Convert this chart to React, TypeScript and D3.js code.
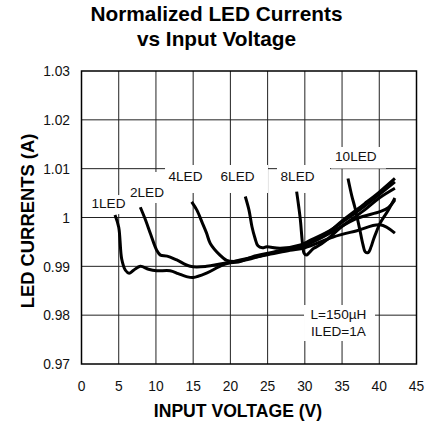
import React from "react";
import * as d3 from "d3";

const W = 439;
const H = 423;

const xTicks = [0, 5, 10, 15, 20, 25, 30, 35, 40, 45];
const yTicks = [0.97, 0.98, 0.99, 1, 1.01, 1.02, 1.03];
const yTickLabels = ["0.97", "0.98", "0.99", "1", "1.01", "1.02", "1.03"];

const led1V = [4.5, 5.0, 5.4, 5.9, 6.4, 7.0, 7.9, 9.0, 10.1, 11.9, 13.0, 14.1, 15.0, 16.8, 19.0, 21.3, 23, 25.4, 28, 30, 33.8, 37, 40.1, 42.1];
const led1I = [1.0005, 0.998, 0.9915, 0.9892, 0.9886, 0.9892, 0.99, 0.9894, 0.9891, 0.9891, 0.9885, 0.9879, 0.9877, 0.9886, 0.9903, 0.9913, 0.9918, 0.9925, 0.9933, 0.9938, 0.996, 0.9973, 0.9985, 0.9968];

const led2V = [7.9, 8.6, 9.3, 10.1, 10.6, 11.5, 12.8, 14.6, 16.8, 19.0, 21.3, 23, 25.4, 28, 30, 33, 37, 40.1, 41.2, 42.1];
const led2I = [1.0021, 0.9995, 0.9965, 0.9933, 0.9923, 0.9921, 0.9913, 0.99, 0.99, 0.9906, 0.991, 0.992, 0.9928, 0.9937, 0.9943, 0.9965, 0.9998, 1.0012, 1.002, 1.0036];

const led4V = [14.8, 15.5, 16.2, 16.8, 17.3, 18.6, 19.5, 20.5, 22, 25, 28, 30, 33, 35, 38, 40, 42.1];
const led4I = [1.0032, 1.0015, 0.999, 0.9968, 0.9947, 0.9923, 0.9912, 0.991, 0.9913, 0.9925, 0.9937, 0.9945, 0.9968, 0.9993, 1.0028, 1.0052, 1.008];

const led6V = [22.0, 22.5, 22.9, 23.3, 23.7, 24.3, 24.9, 26.7, 29.4, 30.7, 33, 35, 38, 40, 42.1];
const led6I = [1.0043, 1.0015, 0.9981, 0.9958, 0.9942, 0.9938, 0.994, 0.9937, 0.9944, 0.9953, 0.997, 0.999, 1.0023, 1.0047, 1.0073];

const led8V = [28.9, 29.2, 29.4, 29.7, 29.9, 30.2, 30.6, 31.2, 31.6, 33, 35, 38, 40, 42.1];
const led8I = [1.0053, 1.002, 0.9995, 0.9945, 0.9927, 0.9923, 0.9928, 0.9937, 0.994, 0.9955, 0.9982, 1.0015, 1.004, 1.006];

const led10V = [35.8, 36.3, 36.7, 37.1, 37.4, 37.8, 38.1, 38.5, 38.9, 39.2, 39.6, 40.1, 41.2, 42.1];
const led10I = [1.008, 1.0045, 1.0022, 0.9995, 0.9974, 0.9945, 0.993, 0.9928, 0.994, 0.9954, 0.997, 0.9988, 1.0015, 1.004];

const seriesV = [led1V, led2V, led4V, led6V, led8V, led10V];
const seriesI = [led1I, led2I, led4I, led6I, led8I, led10I];

// labels: text, centre voltage, baseline current, box [v0, v1, iTop, iBottom]
const labelText = ["1LED", "2LED", "4LED", "6LED", "8LED", "10LED"];
const labelV = [3.63, 8.8, 13.97, 20.96, 29.02, 36.85];
const labelI = [1.00195, 1.0042, 1.00747, 1.00747, 1.00747, 1.01163];
const boxV0 = [0.87, 6.11, 11.22, 18.07, 26.26, 33.52];
const boxV1 = [6.52, 11.35, 18.34, 25.05, 33.38, 40.9];
const boxITop = [1.0046, 1.00932, 1.01075, 1.01075, 1.01075, 1.01444];
const boxIBot = [1.0007, 1.00297, 1.00502, 1.00502, 1.00502, 1.01003];

const noteLines = ["L=150µH", "ILED=1A"];
const noteV = 34.52;
const noteI = [0.97921, 0.97573];
const noteBox = [29.89, 39.43, 0.98208, 0.97471];

const FONT = "'Liberation Sans', Arial, Helvetica, sans-serif";

export default function App() {
  const left = 81.5, right = 416.5, top = 71, bottom = 364;
  const x = d3.scaleLinear().domain([0, 45]).range([left, right]);
  const y = d3.scaleLinear().domain([0.97, 1.03]).range([bottom, top]);

  const line = d3
    .line<[number, number]>()
    .x((d) => x(d[0]))
    .y((d) => y(d[1]))
    .curve(d3.curveCatmullRom.alpha(0.5));

  return (
    <svg
      width={W}
      height={H}
      style={{ position: "fixed", left: 0, top: 0, background: "#fff" }}
      fontFamily={FONT}
    >
      <rect x={0} y={0} width={W} height={H} fill="#fff" />
      <text x={216.5} y={21} textAnchor="middle" fontWeight="bold" fontSize={20.8}>
        Normalized LED Currents
      </text>
      <text x={216.5} y={45.5} textAnchor="middle" fontWeight="bold" fontSize={20.8}>
        vs Input Voltage
      </text>

      {/* grid */}
      {xTicks.slice(1, -1).map((t) => (
        <line key={"gx" + t} x1={x(t)} x2={x(t)} y1={top} y2={bottom} stroke="#222" strokeWidth={1} />
      ))}
      {yTicks.slice(1, -1).map((t) => (
        <line key={"gy" + t} x1={left} x2={right} y1={y(t)} y2={y(t)} stroke="#222" strokeWidth={1} />
      ))}
      <rect x={left} y={top} width={right - left} height={bottom - top} fill="none" stroke="#000" strokeWidth={1.5} />

      {/* tick labels */}
      {xTicks.map((t) => (
        <text key={"tx" + t} x={x(t)} y={390.5} textAnchor="middle" fontSize={13.8} fill="#111">
          {t}
        </text>
      ))}
      {yTicks.map((t, k) => (
        <text key={"ty" + t} x={70} y={y(t)} dy="0.38em" textAnchor="end" fontSize={13.8} fill="#111">
          {yTickLabels[k]}
        </text>
      ))}

      <text x={238} y={416.5} textAnchor="middle" fontWeight="bold" fontSize={17.6}>
        INPUT VOLTAGE (V)
      </text>
      <text
        transform={`translate(33.5, 221) rotate(-90)`}
        textAnchor="middle"
        fontWeight="bold"
        fontSize={18.4}
      >
        LED CURRENTS (A)
      </text>

      {/* label boxes */}
      {labelText.map((t, k) => (
        <g key={"lb" + t}>
          <rect
            x={x(boxV0[k])}
            y={y(boxITop[k])}
            width={x(boxV1[k]) - x(boxV0[k])}
            height={y(boxIBot[k]) - y(boxITop[k])}
            fill="#fff"
          />
          <text x={x(labelV[k])} y={y(labelI[k])} textAnchor="middle" fontSize={13.6} fill="#111">
            {t}
          </text>
        </g>
      ))}
      <rect
        x={x(noteBox[0])}
        y={y(noteBox[2])}
        width={x(noteBox[1]) - x(noteBox[0])}
        height={y(noteBox[3]) - y(noteBox[2])}
        fill="#fff"
      />
      {noteLines.map((t, k) => (
        <text key={"n" + k} x={x(noteV)} y={y(noteI[k])} textAnchor="middle" fontSize={13.6} fill="#111">
          {t}
        </text>
      ))}

      {/* curves */}
      {seriesV.map((vs, k) => (
        <path
          key={"s" + k}
          d={line(vs.map((v, j) => [v, seriesI[k][j]] as [number, number])) || ""}
          fill="none"
          stroke="#000"
          strokeWidth={3}
          strokeLinejoin="round"
          strokeLinecap="butt"
        />
      ))}
    </svg>
  );
}
